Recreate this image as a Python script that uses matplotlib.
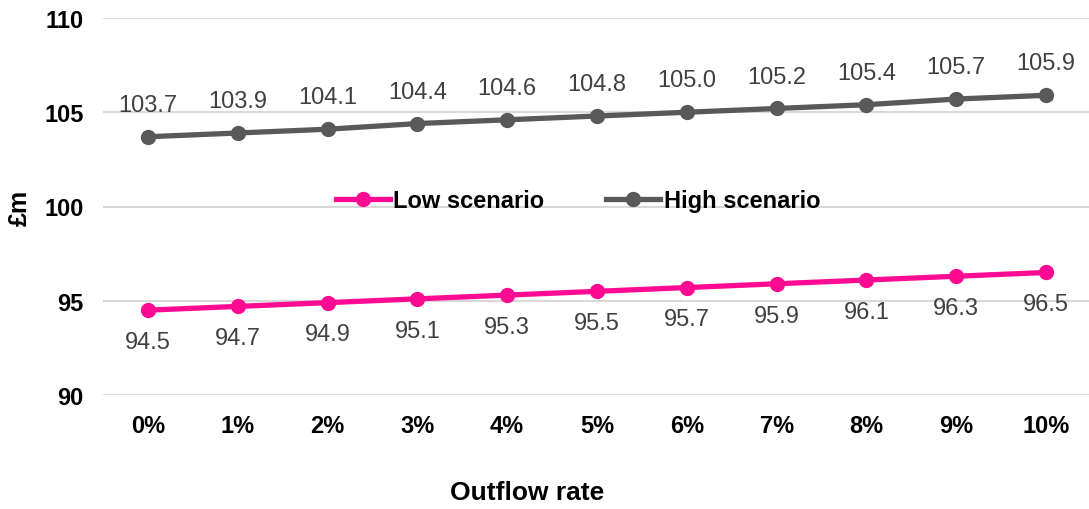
import matplotlib.pyplot as plt
import numpy as np

plt.rcParams['font.family'] = ['Liberation Sans', 'DejaVu Sans']

# Data
rates = ["0%", "1%", "2%", "3%", "4%", "5%", "6%", "7%", "8%", "9%", "10%"]
low = [94.5, 94.7, 94.9, 95.1, 95.3, 95.5, 95.7, 95.9, 96.1, 96.3, 96.5]
high = [103.7, 103.9, 104.1, 104.4, 104.6, 104.8, 105.0, 105.2, 105.4, 105.7, 105.9]

pink = '#FF0A93'
grey = '#595959'
label_col = '#404040'

x = np.arange(len(rates))

fig = plt.figure(figsize=(10.89, 5.10), dpi=100)
ax = fig.add_axes([103 / 1089, 114 / 510, 988 / 1089, 377 / 510])

ax.plot(x, low, color=pink, lw=3.8, marker='o', ms=10, label='Low scenario', zorder=3)
ax.plot(x, high, color=grey, lw=3.8, marker='o', ms=10, label='High scenario', zorder=3)

for xi, v in zip(x, high):
    ax.annotate(f"{v:.1f}", (xi, v), xytext=(0, 15), textcoords='offset points',
                ha='center', va='bottom', fontsize=17, color=label_col)
for xi, v in zip(x, low):
    ax.annotate(f"{v:.1f}", (xi, v), xytext=(0, -15), textcoords='offset points',
                ha='center', va='top', fontsize=17, color=label_col)

ax.set_xlim(-0.5, 10.5)
ax.set_ylim(90, 110)
ax.set_yticks([90, 95, 100, 105, 110])
ax.set_xticks(x)
ax.set_xticklabels(rates)
ax.grid(axis='y', color='#d9d9d9', lw=1.5)
ax.set_axisbelow(True)
for s in ax.spines.values():
    s.set_visible(False)
ax.tick_params(length=0, labelsize=17)
ax.tick_params(axis='x', pad=14)
ax.tick_params(axis='y', pad=14)
for t in ax.get_xticklabels() + ax.get_yticklabels():
    t.set_fontweight('bold')

fig.text(20 / 1089, 1 - 208 / 510, '£m', rotation=90, ha='center', va='center',
         fontsize=18, fontweight='bold')
fig.text(527 / 1089, 1 - 493 / 510, 'Outflow rate', ha='center', va='center',
         fontsize=19, fontweight='bold')

leg = ax.legend(loc='center', bbox_to_anchor=(578 / 1089, 1 - 202 / 510),
                bbox_transform=fig.transFigure, ncol=2, frameon=False,
                prop={'weight': 'bold', 'size': 17}, handlelength=2.3,
                handletextpad=0.15, columnspacing=2.6)

fig.savefig('out.png', dpi=100)
